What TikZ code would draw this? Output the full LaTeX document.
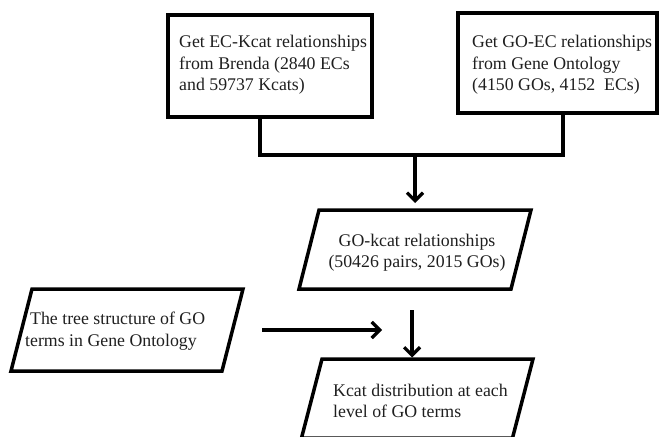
\documentclass[tikz,border=0pt]{standalone}
\usepackage{fontspec}
\setmainfont{Liberation Serif}
\usetikzlibrary{arrows.meta}
\begin{document}
\begin{tikzpicture}[x=1pt,y=-1pt,
  boxst/.style={draw=black,line width=3.5pt,rectangle,inner sep=0pt},
  para/.style={draw=black,line width=3.5pt,line join=miter},
  txt/.style={inner sep=0pt,font=\fontsize{17.8}{21.5}\selectfont,text=black!88},
  conn/.style={line width=3.2pt},
  arr/.style={line width=3.2pt,-{Straight Barb[length=8pt,width=16pt]}}]
\useasboundingbox (0,0) rectangle (660,436);
% boxes
\node[boxst,minimum width=204pt,minimum height=102pt] (b1) at (270,66) {};
\node[boxst,minimum width=199pt,minimum height=100pt] (b2) at (557.5,63) {};
\node[txt,anchor=west,align=left] (t1) at (179,65)
  {Get EC-Kcat relationships\\from Brenda (2840 ECs\\and 59737 Kcats)};
\node[txt,anchor=west,align=left] (t2) at (472,65)
  {Get GO-EC relationships\\from Gene Ontology\\(4150 GOs, 4152\ \ ECs)};
% parallelograms
\coordinate (gotop) at (415,210);
\draw[para] (319,210) -- (531,210) -- (511,289) -- (299,289) -- cycle;
\node[txt,align=center] (tgo) at (417,252.5)
  {GO-kcat relationships\\(50426 pairs, 2015 GOs)};
\draw[para] (32,289) -- (243,289) -- (222,371) -- (11,371) -- cycle;
\node[txt,anchor=west,align=left] (ttree) at (25,331)
  {\hspace*{5pt}The tree structure of GO\\terms in Gene Ontology};
\coordinate (kdtop) at (412,359);
\draw[para] (322,359) -- (533,359) -- (512.5,438) -- (301.5,438) -- cycle;
\node[txt,anchor=west,align=left] (tkd) at (333,401)
  {Kcat distribution at each\\level of GO terms};
% connectors
\coordinate (j) at (415,155);
\draw[conn] ([xshift=-10pt]b1.south) |- (j) -| ([xshift=5.5pt]b2.south);
\draw[arr] (j) -- ([yshift=7pt]gotop);
\coordinate (h1) at (262,330);
\coordinate (h2) at (382,330);
\draw[arr] (h1) -- (h2);
\coordinate (v1) at (412,310);
\draw[arr] (v1) -- ([yshift=1.5pt]kdtop);
\end{tikzpicture}
\end{document}
